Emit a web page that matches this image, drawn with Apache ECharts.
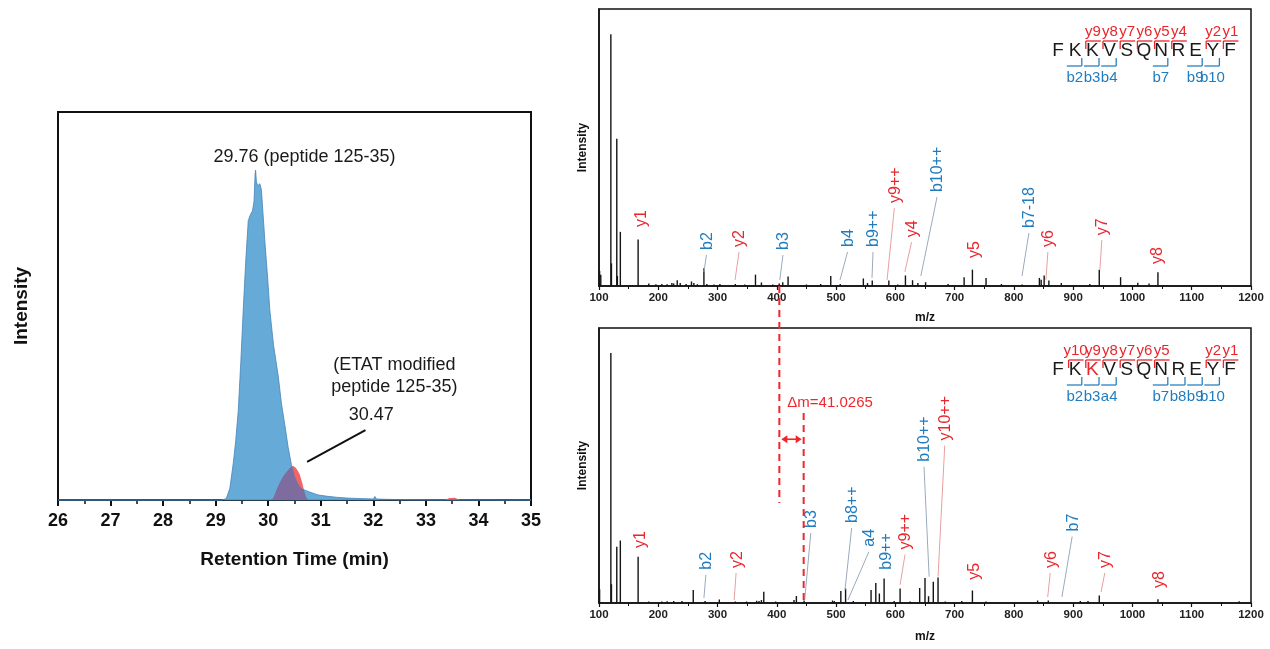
<!DOCTYPE html>
<html>
<head>
<meta charset="utf-8">
<script src="https://cdn.jsdelivr.net/npm/echarts@6/dist/echarts.min.js"></script>
<style>
  html, body { margin: 0; padding: 0; background: #fff; }
  #c { width: 1270px; height: 649px; }
</style>
</head>
<body>
<div id="c"></div>
<script>
// ---------- Extracted ion chromatogram (retention time, min / intensity, % of frame) ----------
const blueTime = [26.0, 29.1, 29.2, 29.27, 29.335, 29.38, 29.43, 29.48, 29.525, 29.57, 29.62, 29.66, 29.7, 29.73, 29.75, 29.76, 29.775, 29.8, 29.84, 29.87, 29.9, 29.94, 29.99, 30.03, 30.1, 30.19, 30.25, 30.32, 30.38, 30.44, 30.5, 30.56, 30.62, 30.7, 30.8, 30.95, 31.1, 31.3, 31.5, 31.7, 31.9, 32.0, 32.03, 32.06, 32.3, 33.0, 35.0];
const blueInt  = [0, 0, 0.3, 3, 9.5, 15, 23, 36, 49, 61, 72, 73.5, 74.5, 77, 84, 85, 82, 81, 81.5, 80, 74, 66, 57, 49, 40, 32, 25, 19, 13.5, 9.2, 6.0, 4.2, 3.0, 2.5, 2.0, 1.3, 1.0, 0.7, 0.5, 0.4, 0.3, 0.25, 0.9, 0.25, 0.15, 0.05, 0];
const redTime  = [30.05, 30.1, 30.155, 30.22, 30.28, 30.35, 30.42, 30.47, 30.52, 30.56, 30.6, 30.64, 30.68, 30.72, 30.76, 33.35, 33.45, 33.55, 33.65];
const redInt   = [0, 0.6, 2.6, 4.5, 6.0, 7.3, 8.4, 8.8, 8.4, 7.6, 6.6, 4.8, 2.6, 0.8, 0, 0, 0.5, 0.6, 0];
const rtTicks  = [26, 27, 28, 29, 30, 31, 32, 33, 34, 35];

const chromNoteText  = ['29.76 (peptide 125-35)', '(ETAT modified', 'peptide 125-35)', '30.47'];
const chromNoteTime  = [30.69, 32.40, 32.40, 31.96];
const chromNoteLevel = [88.4, 34.8, 29.1, 21.9];
const chromPointerTime  = [31.85, 30.74];
const chromPointerLevel = [18.0, 9.8];

// ---------- MS/MS spectrum of peptide 125-35 (m/z / relative intensity) ----------
const topMz  = [101, 103, 120, 121, 130, 131, 136, 166, 184, 196, 206, 215, 223, 226, 232, 237, 247, 256, 260, 266, 277, 282, 294, 304, 330, 346, 364, 374, 393, 404, 410, 419, 450, 474, 491, 507, 546, 553, 561, 589, 604, 617, 629, 638, 651, 689, 716, 730, 753, 779, 814, 843, 846, 851, 859, 880, 928, 944, 980, 1009, 1028, 1043];
const topInt = [6, 4.5, 100, 9, 58.5, 4, 21.5, 18.5, 1, 0.7, 0.8, 0.7, 1.2, 1.0, 2.3, 1.2, 0.8, 1.8, 1.2, 0.7, 7, 0.8, 0.6, 0.8, 0.8, 0.6, 4.5, 1.4, 0.6, 1.0, 1.5, 3.8, 0.6, 0.8, 4, 0.8, 3, 1.2, 2.2, 2.2, 0.6, 4.2, 2.3, 1.2, 1.5, 0.8, 3.5, 6.5, 3.2, 0.8, 0.6, 3.2, 2.5, 4.2, 2.2, 1.2, 0.8, 6.5, 3.5, 1.3, 1.0, 5.5];

const topIonName   = ['y1', 'b2', 'y2', 'b3', 'b4', 'b9++', 'y9++', 'y4', 'b10++', 'y5', 'b7-18', 'y6', 'y7', 'y8'];
const topIonLabelMz    = [172, 283, 338, 412, 521, 564, 600, 629, 672, 734, 827, 859, 950, 1043];
const topIonLabelLevel = [23.4, 14.3, 15.5, 14.3, 15.5, 15.5, 33, 19.4, 37.3, 11.1, 23, 15.5, 20.2, 8.7];
const topIonTipMz      = [null, 277, 329.5, 405, 506.6, 560.6, 586, 616, 643, null, 813.7, 854, 945, null];
const topIonTipLevel   = [null, 5.6, 2.4, 2.4, 2.4, 3.2, 2.4, 5.6, 4, null, 4, 2.4, 6.3, null];

// ---------- MS/MS spectrum of the ETAT-modified peptide ----------
const botMz  = [101, 120, 121, 130, 136, 166, 184, 206, 215, 226, 240, 259, 279, 303, 330, 349, 366, 370, 374, 378, 398, 429, 433, 446, 494, 497, 508, 516, 529, 559, 567, 573, 581, 598, 608, 625, 641, 650, 656, 664, 672, 684, 712, 730, 753, 840, 858, 912, 925, 944, 1043, 1180];
const botInt = [5.5, 100, 7.5, 22.5, 25, 18.5, 0.6, 0.6, 0.7, 0.8, 0.8, 5.2, 0.8, 1.4, 0.6, 0.6, 0.9, 0.8, 1.2, 4.5, 0.6, 1.2, 2.8, 1.0, 1.0, 0.8, 4.8, 5.8, 0.8, 5.2, 8, 3.8, 9.8, 0.8, 5.8, 0.6, 6, 10, 2.7, 8.5, 10.2, 0.6, 0.8, 5, 0.6, 1, 1, 0.8, 0.8, 3, 1.5, 0.7];

const botIonName   = ['y1', 'b2', 'y2', 'b3', 'b8++', 'a4', 'b9++', 'y9++', 'b10++', 'y10++', 'y5', 'y6', 'b7', 'y7', 'y8'];
const botIonLabelMz    = [171, 282, 333, 459, 528, 557, 586, 618, 650, 685, 734, 863, 900, 955, 1046];
const botIonLabelLevel = [22, 13.3, 14, 30, 32, 22.5, 13.3, 21.4, 56.5, 65, 9.3, 14, 28.6, 14, 6];
const botIonTipMz      = [null, 277, 328, 447, 515, 520, null, 608, 657, 672, null, 857, 881, 947, null];
const botIonTipLevel   = [null, 2, 1.2, 1.2, 5.2, 1.2, null, 7.3, 10.5, 10.5, null, 2.4, 2.4, 4.4, null];

// ---------- Sequence coverage ----------
const peptide = ['F', 'K', 'K', 'V', 'S', 'Q', 'N', 'R', 'E', 'Y', 'F'];
const topYIons = ['y9', 'y8', 'y7', 'y6', 'y5', 'y4', 'y2', 'y1'];
const topYSites = [2, 3, 4, 5, 6, 7, 9, 10];
const topBIons = ['b2', 'b3', 'b4', 'b7', 'b9', 'b10'];
const topBSites = [2, 3, 4, 7, 9, 10];
const botYIons = ['y10', 'y9', 'y8', 'y7', 'y6', 'y5', 'y2', 'y1'];
const botYSites = [1, 2, 3, 4, 5, 6, 9, 10];
const botBIons = ['b2', 'b3', 'a4', 'b7', 'b8', 'b9', 'b10'];
const botBSites = [2, 3, 4, 7, 8, 9, 10];
const modifiedResidue = 2;           // zero-based index of the ETAT-labelled lysine

const b3Mz = 404.26;
const deltaMass = 41.0265;

// ---------- Styling ----------
const FONT = 'Arial, "Liberation Sans", Helvetica, sans-serif';
const NARROW = '"Liberation Sans Narrow", "Arial Narrow", Arial, sans-serif';
const RED = '#e8262c';
const BLUE = '#1f7cbf';
const RED_LEADER = '#e7a0a0';
const BLUE_LEADER = '#9aaabd';
const PEAK_BLUE = '#66aad7';
const PEAK_RED = '#f46464';
const PEAK_OVERLAP = '#7f6c9f';

const chart = echarts.init(document.getElementById('c'), null, { renderer: 'canvas', width: 1270, height: 649 });

function outlineVia(toPx, ts, hs) {
  const pts = [toPx([ts[0], 0])];
  for (let i = 0; i < ts.length; i++) pts.push(toPx([ts[i], hs[i]]));
  pts.push(toPx([ts[ts.length - 1], 0]));
  return pts;
}

// red trace underneath, blue trace on top; the shared area is tinted afterwards
function chromItem(params, api) {
  const toPx = v => api.coord(v);
  return {
    type: 'group',
    children: [
      { type: 'polygon', shape: { points: outlineVia(toPx, redTime, redInt) }, style: { fill: PEAK_RED } },
      { type: 'polygon', shape: { points: outlineVia(toPx, blueTime, blueInt) }, style: { fill: PEAK_BLUE, stroke: '#4584ba', lineWidth: 0.8 } }
    ]
  };
}

function stickItem(params, api) {
  const a = api.coord([api.value(0), 0]);
  const b = api.coord([api.value(0), api.value(1)]);
  return {
    type: 'line',
    shape: { x1: a[0], y1: a[1], x2: b[0], y2: b[1] },
    style: { stroke: '#141414', lineWidth: 1.4 }
  };
}

function ionLabelRenderer(names, tipMz, tipLevel) {
  return function (params, api) {
    const i = params.dataIndex;
    const p = api.coord([api.value(0), api.value(1)]);
    const isY = names[i].charAt(0) === 'y';
    const children = [{
      type: 'text', x: p[0], y: p[1], rotation: Math.PI / 2,
      style: {
        text: names[i], fill: isY ? RED : BLUE, fontSize: 16, fontFamily: FONT,
        align: 'left', verticalAlign: 'middle', textAlign: 'left', textVerticalAlign: 'middle'
      }
    }];
    if (tipMz[i] !== null) {
      const q = api.coord([tipMz[i], tipLevel[i]]);
      children.push({
        type: 'line',
        shape: { x1: p[0] - 1, y1: p[1] + 5, x2: q[0], y2: q[1] },
        style: { stroke: isY ? RED_LEADER : BLUE_LEADER, lineWidth: 1 }
      });
    }
    return { type: 'group', children: children };
  };
}

function spectrumXAxis(gridIndex, gap) {
  return {
    type: 'value', gridIndex: gridIndex, min: 100, max: 1200, interval: 100,
    name: 'm/z', nameLocation: 'middle', nameGap: gap,
    nameTextStyle: { fontSize: 12, fontWeight: 'bold', color: '#111', fontFamily: NARROW },
    axisLine: { show: true, onZero: false, lineStyle: { color: '#111', width: 1.5 } },
    axisTick: { show: true, inside: false, length: 4, lineStyle: { color: '#111', width: 1.2 } },
    minorTick: { show: true, splitNumber: 2, length: 3, lineStyle: { color: '#111', width: 1 } },
    axisLabel: { fontSize: 11.5, fontWeight: 'bold', color: '#222', margin: 6, fontFamily: NARROW, formatter: v => String(v) },
    splitLine: { show: false }
  };
}

function spectrumYAxis(gridIndex) {
  return {
    type: 'value', gridIndex: gridIndex, min: 0, max: 110,
    name: 'Intensity', nameLocation: 'middle', nameGap: 10,
    nameTextStyle: { fontSize: 12, fontWeight: 'bold', color: '#111', fontFamily: NARROW },
    axisLine: { show: true, lineStyle: { color: '#111', width: 1.5 } },
    axisTick: { show: false }, axisLabel: { show: false }, splitLine: { show: false }
  };
}

chart.setOption({
  animation: false,
  backgroundColor: 'transparent',
  textStyle: { fontFamily: FONT },
  grid: [
    { left: 58, top: 112, width: 473, height: 388, show: true, borderColor: '#111', borderWidth: 2, backgroundColor: 'transparent' },
    { left: 599, top: 9, width: 652, height: 277, show: true, borderColor: '#111', borderWidth: 1.5, backgroundColor: 'transparent' },
    { left: 599, top: 328, width: 652, height: 275, show: true, borderColor: '#111', borderWidth: 1.5, backgroundColor: 'transparent' }
  ],
  xAxis: [
    {
      type: 'value', gridIndex: 0, min: rtTicks[0], max: rtTicks[rtTicks.length - 1], interval: 1,
      name: 'Retention Time (min)', nameLocation: 'middle', nameGap: 50,
      nameTextStyle: { fontSize: 19, fontWeight: 'bold', color: '#111' },
      axisLine: { show: true, onZero: false, lineStyle: { color: '#111', width: 2 } },
      axisTick: { show: true, inside: false, length: 6, lineStyle: { color: '#111', width: 2 } },
      minorTick: { show: true, splitNumber: 2, length: 4, lineStyle: { color: '#111', width: 1.5 } },
      axisLabel: { fontSize: 18, fontWeight: 'bold', color: '#111', margin: 12 },
      splitLine: { show: false }
    },
    spectrumXAxis(1, 26),
    spectrumXAxis(2, 28)
  ],
  yAxis: [
    {
      type: 'value', gridIndex: 0, min: 0, max: 100,
      name: 'Intensity', nameLocation: 'middle', nameGap: 27,
      nameTextStyle: { fontSize: 19, fontWeight: 'bold', color: '#111' },
      axisLine: { show: true, lineStyle: { color: '#111', width: 2 } },
      axisTick: { show: false }, axisLabel: { show: false }, splitLine: { show: false }
    },
    spectrumYAxis(1),
    spectrumYAxis(2)
  ],
  series: [
    { type: 'custom', xAxisIndex: 0, yAxisIndex: 0, silent: true, clip: false, data: [[30, 0]], renderItem: chromItem, z: 2 },
    { type: 'custom', xAxisIndex: 1, yAxisIndex: 1, silent: true, data: topMz.map((m, i) => [m, topInt[i]]), renderItem: stickItem, z: 3 },
    { type: 'custom', xAxisIndex: 2, yAxisIndex: 2, silent: true, data: botMz.map((m, i) => [m, botInt[i]]), renderItem: stickItem, z: 3 },
    { type: 'custom', xAxisIndex: 1, yAxisIndex: 1, silent: true, clip: false, z: 4,
      data: topIonLabelMz.map((m, i) => [m, topIonLabelLevel[i]]),
      renderItem: ionLabelRenderer(topIonName, topIonTipMz, topIonTipLevel) },
    { type: 'custom', xAxisIndex: 2, yAxisIndex: 2, silent: true, clip: false, z: 4,
      data: botIonLabelMz.map((m, i) => [m, botIonLabelLevel[i]]),
      renderItem: ionLabelRenderer(botIonName, botIonTipMz, botIonTipLevel) }
  ]
});

// ---------- Overlay: annotations, sequence maps and mass-shift marker ----------
const px = (g, v) => chart.convertToPixel({ gridIndex: g }, v);

// area shared by both traces: the red trace clipped to the blue one
{
  const toPx = v => px(0, v);
  const overlap = new echarts.graphic.Polygon({
    shape: { points: outlineVia(toPx, redTime, redInt) },
    style: { fill: PEAK_OVERLAP },
    z: 2, z2: 100, silent: true
  });
  overlap.setClipPath(new echarts.graphic.Polygon({ shape: { points: outlineVia(toPx, blueTime, blueInt) } }));
  chart.getZr().add(overlap);
}

function txt(x, y, text, fill, size, align) {
  return {
    type: 'text', x: x, y: y, silent: true, z: 50,
    style: {
      text: text, fill: fill, fontSize: size, fontFamily: FONT,
      align: align || 'center', verticalAlign: 'middle',
      textAlign: align || 'center', textVerticalAlign: 'middle'
    }
  };
}
function seg(x1, y1, x2, y2, stroke, width, dash) {
  return {
    type: 'line', silent: true, z: 50,
    shape: { x1: x1, y1: y1, x2: x2, y2: y2 },
    style: { stroke: stroke, lineWidth: width, lineDash: dash || null }
  };
}

const graphics = [];

// chromatogram notes
chromNoteText.forEach((t, i) => {
  const p = px(0, [chromNoteTime[i], chromNoteLevel[i]]);
  graphics.push(txt(p[0], p[1], t, '#1a1a1a', 18));
});
{
  const a = px(0, [chromPointerTime[0], chromPointerLevel[0]]);
  const b = px(0, [chromPointerTime[1], chromPointerLevel[1]]);
  graphics.push(seg(a[0], a[1], b[0], b[1], '#111', 2));
}

// sequence coverage maps
const seqX0 = 1058, seqStep = 17.2;
function sequenceMap(dy, yNames, ySites, bNames, bSites, modIdx) {
  const cx = k => seqX0 + seqStep * (k - 0.5);
  peptide.forEach((aa, i) => {
    graphics.push(txt(seqX0 + seqStep * i, 51 + dy, aa, i === modIdx ? RED : '#1a1a1a', 19));
  });
  yNames.forEach((n, j) => {
    const x = cx(ySites[j]) + 2;
    graphics.push(seg(x, 41 + dy, x, 49 + dy, RED, 1.3));
    graphics.push(seg(x, 41 + dy, x + 15, 41 + dy, RED, 1.3));
    graphics.push(txt(x + 7, 32 + dy, n, RED, 15));
  });
  bNames.forEach((n, j) => {
    const x = cx(bSites[j]) - 2;
    graphics.push(seg(x, 58 + dy, x, 66 + dy, '#2a80c2', 1.3));
    graphics.push(seg(x - 15, 66 + dy, x, 66 + dy, '#2a80c2', 1.3));
    graphics.push(txt(x - 7, 78 + dy, n, BLUE, 15));
  });
}
sequenceMap(0, topYIons, topYSites, topBIons, topBSites, -1);
sequenceMap(319, botYIons, botYSites, botBIons, botBSites, modifiedResidue);

// mass shift between unmodified and modified b3
{
  const dash = [7, 5];
  const a = px(1, [b3Mz, 0]);
  const b = px(2, [b3Mz, 40]);
  graphics.push(seg(a[0], a[1], b[0], b[1], '#f0262c', 2, dash));
  const c = px(2, [b3Mz + deltaMass, 76]);
  const d = px(2, [b3Mz + deltaMass, 0]);
  graphics.push(seg(c[0], c[1], d[0], d[1], '#f0262c', 2, dash));
  const ay = px(2, [b3Mz, 65.5])[1];
  const x1 = a[0] + 2, x2 = c[0] - 2;
  graphics.push(seg(x1 + 4, ay, x2 - 4, ay, '#f0262c', 1.6));
  graphics.push({ type: 'polygon', silent: true, z: 50, shape: { points: [[x1, ay], [x1 + 6, ay - 4], [x1 + 6, ay + 4]] }, style: { fill: '#f0262c' } });
  graphics.push({ type: 'polygon', silent: true, z: 50, shape: { points: [[x2, ay], [x2 - 6, ay - 4], [x2 - 6, ay + 4]] }, style: { fill: '#f0262c' } });
  const t = px(2, [b3Mz, 80]);
  graphics.push(txt(t[0] + 8, t[1], '\u0394m=' + deltaMass.toFixed(4), '#f0262c', 15, 'left'));
}

chart.setOption({ graphic: { elements: graphics } });
</script>
</body>
</html>
